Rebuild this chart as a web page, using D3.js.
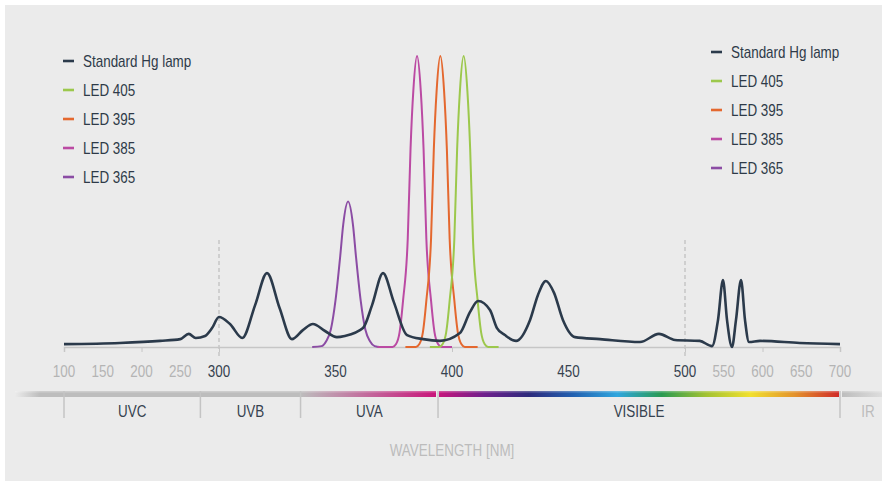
<!DOCTYPE html>
<html><head><meta charset="utf-8">
<script src="https://cdn.jsdelivr.net/npm/d3@7"></script>
<style>
body{margin:0;background:#fff}
svg{display:block}
text{font-family:"Liberation Sans",Arial,sans-serif}
</style>
</head><body>
<svg id="chart" width="882" height="481"></svg>
<script>
// ---------- DATA ----------
const tickValues = [100,150,200,250,300,350,400,450,500,550,600,650,700];
const darkTicks = [300,350,400,450,500];
const tickMarks = [100,200,300,400,500,600,700];
const dashedAt = [300,500];

const hgLamp = [[100,1.0],[172,1.4],[224,2.1],[250,2.7],[261,4.5],[270,3.1],[282,3.8],[291,6.5],[300,10.3],
  [304.7,7.9],[310,3.1],[315.5,14.4],[320.6,25.4],[326,13.4],[331.3,2.7],[336,5.8],[340.3,7.9],[345.5,5.5],
  [350.6,3.4],[354,3.8],[361.8,6.5],[365.7,14.4],[370.4,25.4],[375,15.5],[380.7,4.1],[387.6,2.7],[394.8,2.1],
  [403.4,4.8],[407.7,12],[411.2,15.8],[416.3,12.7],[419.3,6.5],[422.7,4.1],[427.5,2.1],[433.5,9.3],[436.9,17.9],
  [440.3,22.7],[443.8,18.6],[447.6,9.3],[452.8,3.4],[463.5,2.7],[480.7,1.7],[488.8,4.5],[495.7,2.4],[519,2.1],
  [534.8,0.3],[542.6,9.3],[549,23],[554.2,9.3],[560.6,0],[565.8,9.3],[572.3,23],[577.4,9.3],[582.6,1.7],
  [596.8,2.1],[648,1.4],[700,1.0]];
const led365 = [[340,0],[344,0.3],[346,2],[348,6],[350,16],[352,31],[353.3,42],[355.4,50],[357.5,42],[358.8,31],
  [360.8,16],[362.8,6],[364.8,2],[366.8,0.3],[369,0],[370,0]];
const led385 = [[368,0],[374.5,0],[376,1],[377.5,5],[379,16],[381,37],[382.2,68],[383.4,88],[385,100],
  [386.6,88],[387.8,68],[389,37],[391,16],[392.5,5],[394,1],[395.5,0],[400,0]];
const led395 = [[380,0],[384.5,0],[386,1],[387.5,5],[389,16],[391,37],[392.2,68],[393.4,88],[395,100],
  [396.6,88],[397.8,68],[399,37],[401,16],[402.5,5],[404,1],[405.5,0],[411,0]];
const led405 = [[390.5,0],[394.5,0],[396,1],[397.5,5],[399,16],[401,37],[402.2,68],[403.4,88],[405,100],
  [406.6,88],[407.8,68],[409,37],[411,16],[412.5,5],[414,1],[415.5,0],[420,0]];

const seriesNames = ["Standard Hg lamp","LED 405","LED 395","LED 385","LED 365"];
const seriesData = [hgLamp, led405, led395, led385, led365];
const seriesColors = ["#2b3a4b","#9cc84c","#e4682f","#bb4aa3","#8b4ca4"];

const bandNames = ["UVC","UVB","UVA","VISIBLE"];
const bandEdges = [100,276,335,394,700];
const spectrumColors = ["#c4167c","#6e1f8c","#2d2a7c","#2260b0","#2fa6de","#2a9a52","#a2c232","#f1e02e","#e3922c","#d02a28"];

// ---------- LAYOUT ----------
const svg = d3.select("#chart");
const W = 882, H = 481;
const SQ = 0.84; // horizontal condensing of text
svg.append("rect").attr("x",5).attr("y",5).attr("width",W-5).attr("height",H-5).attr("fill","#ebebeb");

const x = d3.scaleLinear().domain([100,300,500,700]).range([64,219,685,840]);
const y = d3.scaleLinear().domain([0,100]).range([347,56]);

function place(sel, fx, fy){
  return sel.attr("transform",(d,i)=>`translate(${fx(d,i)},${fy(d,i)}) scale(${SQ},1)`);
}

// dashed guides
svg.append("g").selectAll("line").data(dashedAt).join("line")
  .attr("x1",d=>x(d)).attr("x2",d=>x(d)).attr("y1",240).attr("y2",356)
  .attr("stroke","#b3b3b3").attr("stroke-width",1).attr("stroke-dasharray","4,3");

// axis
const axis = d3.axisBottom(x).tickValues(tickMarks).tickSize(5).tickFormat("");
const gAxis = svg.append("g").attr("transform","translate(0,347)").call(axis);
gAxis.select(".domain").attr("stroke","#c6c6c6").attr("stroke-width",1.5);
gAxis.selectAll(".tick line").attr("stroke","#c6c6c6").attr("stroke-width",1);

place(svg.append("g").selectAll("text").data(tickValues).join("text"), d=>x(d), ()=>377)
  .attr("text-anchor","middle")
  .attr("font-size",16)
  .attr("fill",d=>darkTicks.includes(d)?"#36424f":"#b4b4b4")
  .text(d=>d);

// curves
const line = d3.line().x(d=>x(d[0])).y(d=>y(d[1])).curve(d3.curveMonotoneX);
const order = [4,3,2,1,0];
svg.append("g").selectAll("path").data(order).join("path")
  .attr("d",i=>line(seriesData[i]))
  .attr("fill","none")
  .attr("stroke",i=>seriesColors[i])
  .attr("stroke-width",i=>i===0?2.6:2)
  .attr("stroke-linejoin","round");

// legends
function legend(x0, y0){
  const g = svg.append("g");
  const rows = g.selectAll("g").data(seriesNames).join("g")
    .attr("transform",(d,i)=>`translate(${x0},${y0+i*29})`);
  rows.append("line").attr("x1",0).attr("x2",11).attr("y1",0).attr("y2",0)
    .attr("stroke",(d,i)=>seriesColors[i]).attr("stroke-width",2.6);
  place(rows.append("text"), ()=>20, ()=>0).attr("dy","0.36em")
    .attr("font-size",16).attr("fill","#2e3a48").text(d=>d);
}
legend(63,61);
legend(711,52);

// spectrum bar
const defs = svg.append("defs");
const gVis = defs.append("linearGradient").attr("id","vis").attr("gradientUnits","userSpaceOnUse")
  .attr("x1",x(394)+2).attr("x2",x(700)-1);
gVis.selectAll("stop").data(spectrumColors).join("stop")
  .attr("offset",(d,i)=>i/(spectrumColors.length-1)).attr("stop-color",d=>d);
const gUv = defs.append("linearGradient").attr("id","uv").attr("gradientUnits","userSpaceOnUse")
  .attr("x1",15).attr("x2",x(394)-2);
const uvStops = [[0,"#bdbdbd",0],[(40-15)/(x(394)-17),"#bdbdbd",1],[(x(335)-15)/(x(394)-17),"#bdbdbd",1],[1,"#c8157a",1]];
gUv.selectAll("stop").data(uvStops).join("stop")
  .attr("offset",d=>d[0]).attr("stop-color",d=>d[1]).attr("stop-opacity",d=>d[2]);
const gIr = defs.append("linearGradient").attr("id","ir").attr("gradientUnits","userSpaceOnUse")
  .attr("x1",x(700)+2).attr("x2",W);
gIr.append("stop").attr("offset",0).attr("stop-color","#bdbdbd");
gIr.append("stop").attr("offset",1).attr("stop-color","#bdbdbd").attr("stop-opacity",0.3);

const barY = 391, barH = 6;
svg.append("rect").attr("x",15).attr("y",barY).attr("width",x(394)-2-15).attr("height",barH).attr("fill","url(#uv)");
svg.append("rect").attr("x",x(394)+1).attr("y",barY).attr("width",x(700)-x(394)-2).attr("height",barH).attr("fill","url(#vis)");
svg.append("rect").attr("x",x(700)+2).attr("y",barY).attr("width",W-x(700)-2).attr("height",barH).attr("fill","url(#ir)");
svg.append("rect").attr("x",15).attr("y",barY).attr("width",W-15).attr("height",1.5).attr("fill","#fff").attr("opacity",0.25);

// band separators
svg.append("g").selectAll("line").data(bandEdges).join("line")
  .attr("x1",d=>x(d)).attr("x2",d=>x(d)).attr("y1",barY).attr("y2",418)
  .attr("stroke","#c4c4c4").attr("stroke-width",1.5);

place(svg.append("g").selectAll("text").data(bandNames).join("text"),
    (d,i)=>(x(bandEdges[i])+x(bandEdges[i+1]))/2, ()=>411)
  .attr("dy","0.36em").attr("text-anchor","middle").attr("font-size",16).attr("fill","#36424f").text(d=>d);
place(svg.append("text").datum("IR"), ()=>x(700)+28, ()=>411).attr("dy","0.36em")
  .attr("text-anchor","middle").attr("font-size",16).attr("fill","#bcbcbc").text("IR");

place(svg.append("text").datum(0), ()=>(x(100)+x(700))/2, ()=>450).attr("dy","0.36em")
  .attr("text-anchor","middle").attr("font-size",16).attr("fill","#bcbcbc").text("WAVELENGTH [NM]");
</script>
</body></html>
